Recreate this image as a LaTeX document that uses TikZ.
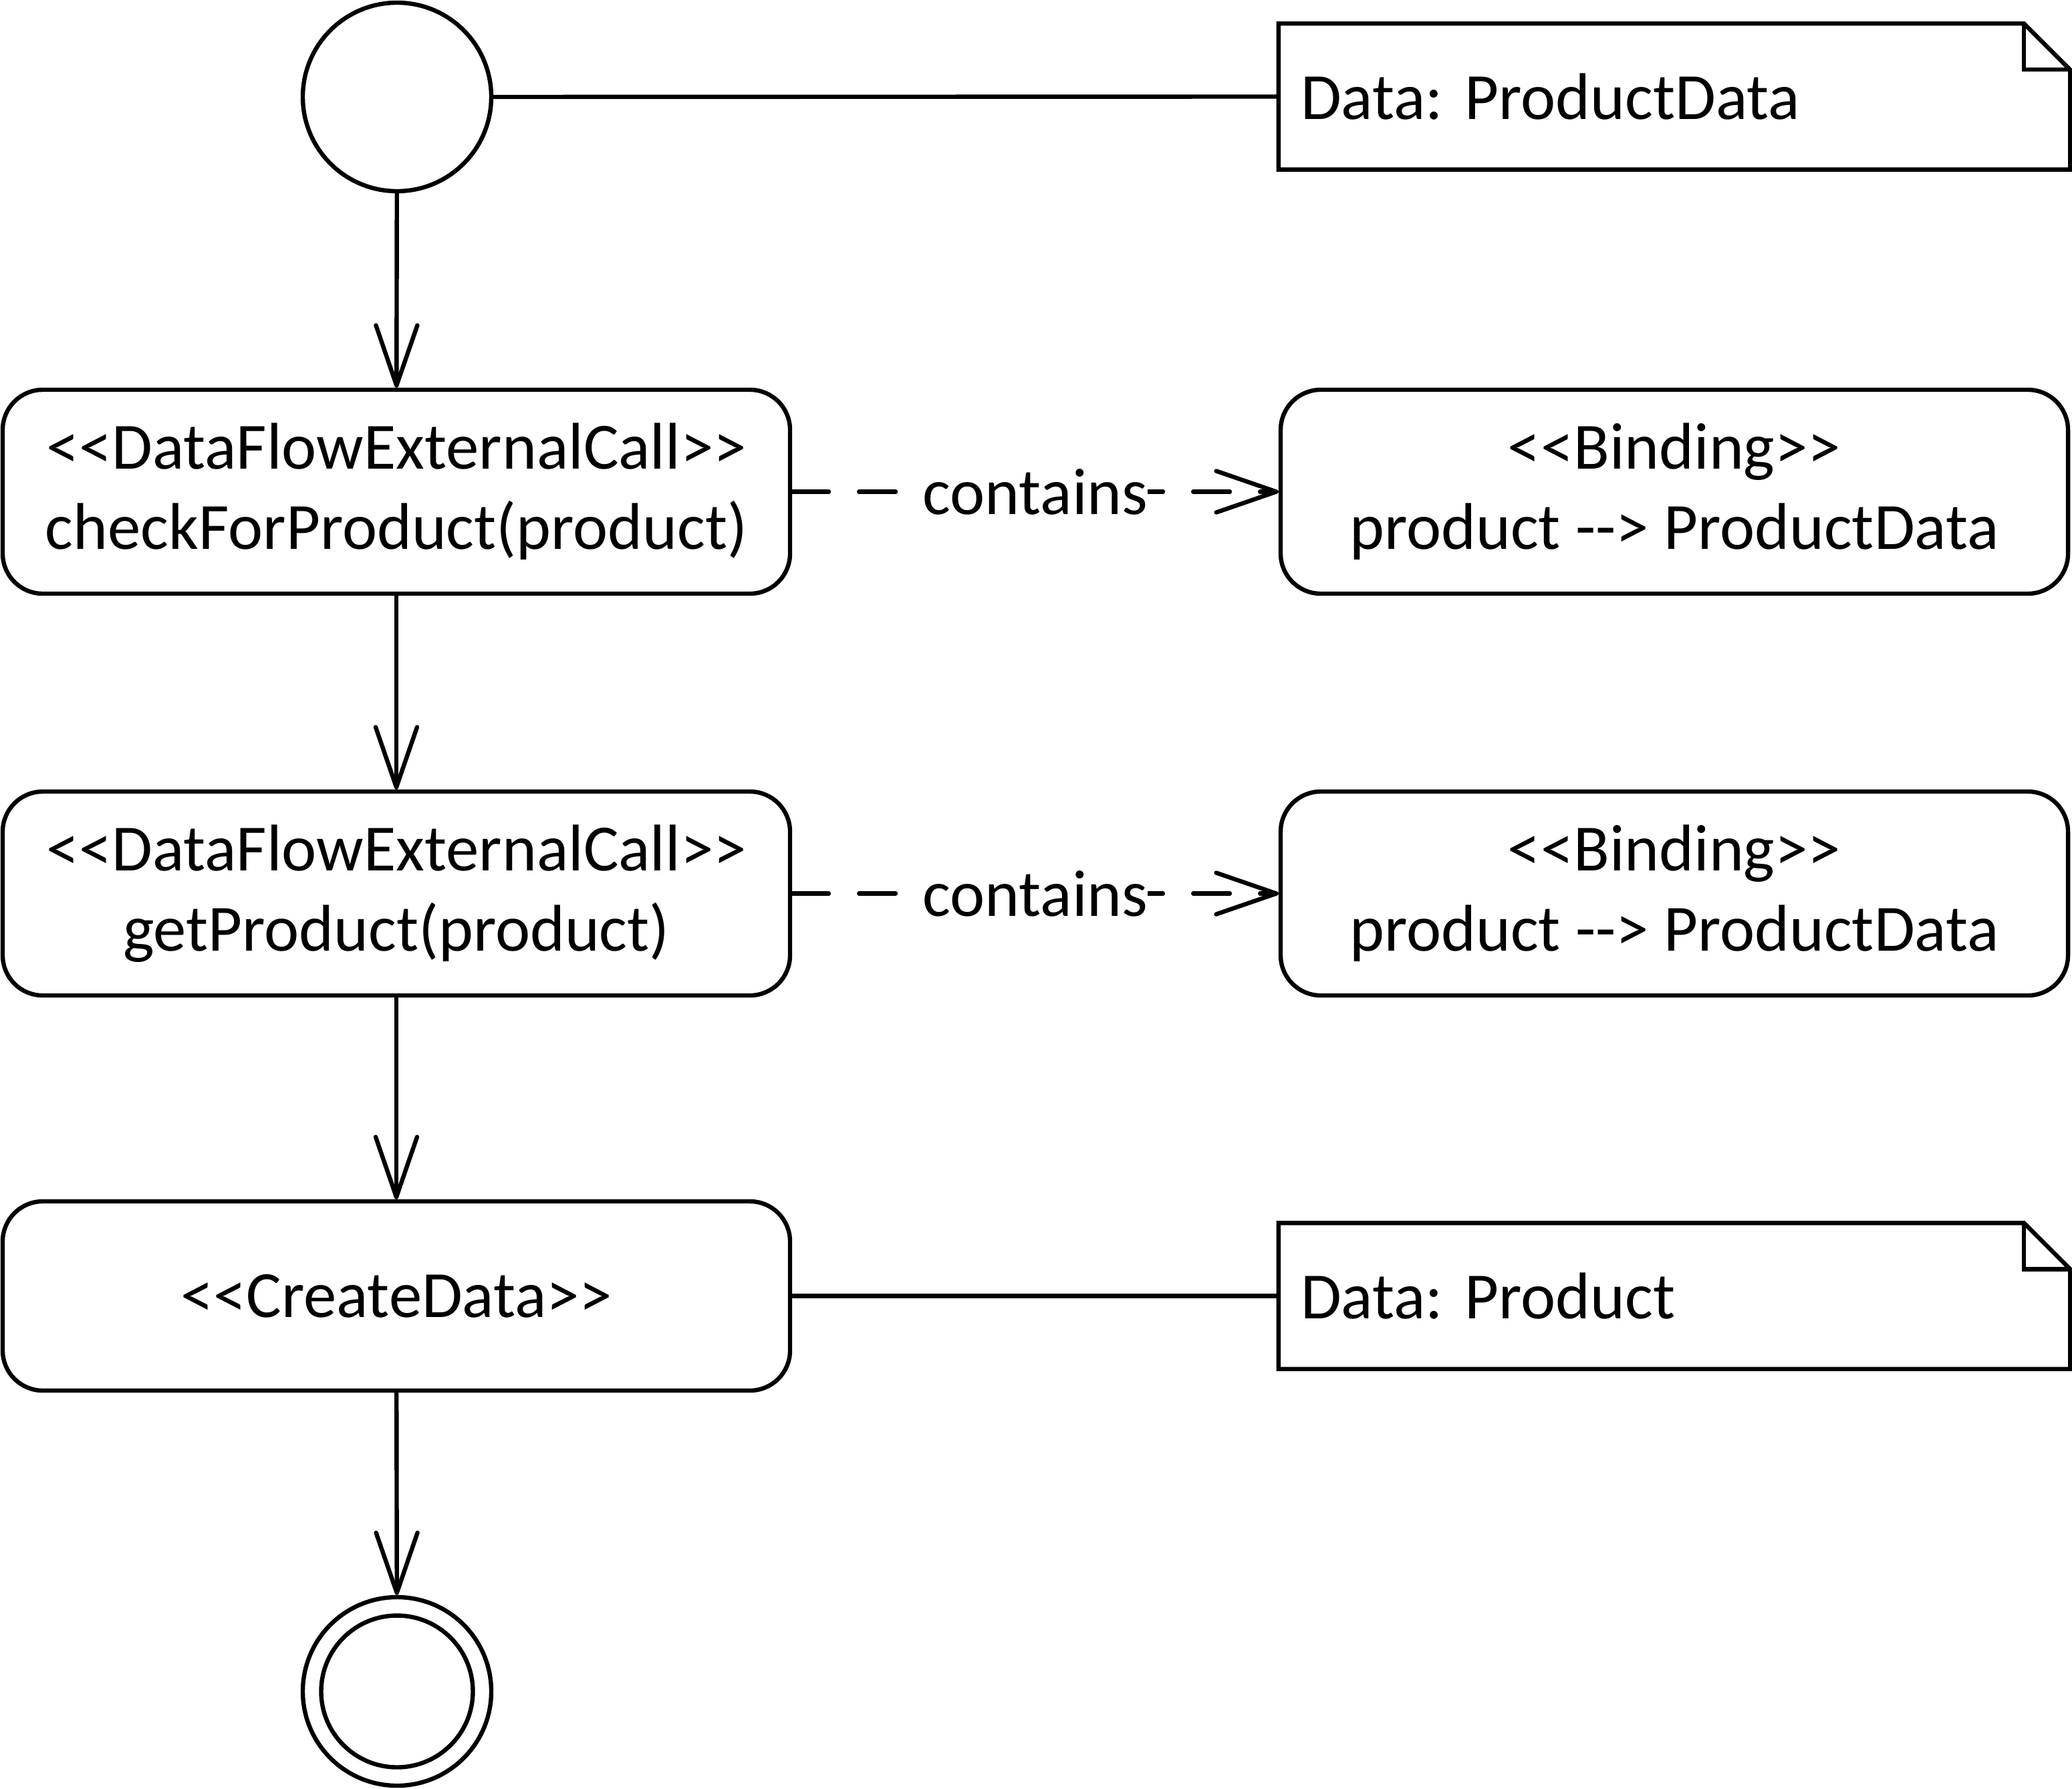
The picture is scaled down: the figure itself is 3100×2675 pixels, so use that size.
\documentclass[tikz,border=0pt]{standalone}
\usepackage{fontspec}
\setmainfont{Carlito}
\usetikzlibrary{arrows.meta}
\frenchspacing
\begin{document}
\begin{tikzpicture}[x=0.25pt,y=-0.25pt,
  lw/.style={line width=1.6pt},
  txt/.style={font=\fontsize{24.7}{30}\selectfont},
  act/.style={draw, lw, txt, rounded corners=15pt, minimum width=294.5pt, minimum height=76.25pt, align=center, inner sep=0pt},
  notebox/.style={lw, txt, minimum width=294.5pt, minimum height=53pt, text width=279.5pt, inner xsep=7.5pt, inner ysep=0pt, align=left},
  flow/.style={lw, -{Straight Barb[length=22.5pt,width=15.5pt,round]}},
  dep/.style={flow, dash pattern=on 13.7pt off 11.3pt, line cap=round},
  lbl/.style={txt, fill=white, inner xsep=0pt, inner ysep=2pt},
  initnode/.style={circle, draw, lw, minimum size=70.5pt, inner sep=0pt}
]
\useasboundingbox (0,0) rectangle (3100,2675);

\node[initnode] (start) at (594,145) {};
\node[notebox] (note1) at (2505,144.5) {Data: ProductData};

\node[act] (act1) at (593,735.5) {<{}<DataFlowExternalCall>{}>\\checkForProduct(product)};
\node[act] (bind1) at (2505,735.5) {<{}<Binding>{}>\\product -{}-> ProductData};

\node[act] (act2) at (593,1336.5) {<{}<DataFlowExternalCall>{}>\\getProduct(product)};
\node[act] (bind2) at (2505,1336.5) {<{}<Binding>{}>\\product -{}-> ProductData};

\node[act, minimum height=70.75pt] (act3) at (593,1938.5) {<{}<CreateData>{}>};
\node[notebox] (note2) at (2505,1938.5) {Data: Product};

\node[initnode] (final) at (594,2530) {};
\node[circle, draw, lw, minimum size=56.75pt, inner sep=0pt] (finalin) at (594,2530) {};

\foreach \n in {note1,note2} {
  \draw[lw, line join=miter] (\n.north west) -- ([xshift=-17.25pt]\n.north east) -- ([yshift=-17.25pt]\n.north east) -- (\n.south east) -- (\n.south west) -- cycle;
  \draw[lw] ([xshift=-17.25pt]\n.north east) |- ([yshift=-17.25pt]\n.north east);
}

\draw[lw] (start.east) -- (note1.west);
\draw[lw] (act3.east) -- (note2.west);

\draw[flow] (start) -- (act1);
\draw[flow] (act1) -- (act2);
\draw[flow] (act2) -- (act3);
\draw[flow] (act3) -- (final);

\draw[dep] (act1) -- node[lbl] {contains} (bind1);
\draw[dep] (act2) -- node[lbl] {contains} (bind2);
\end{tikzpicture}
\end{document}
